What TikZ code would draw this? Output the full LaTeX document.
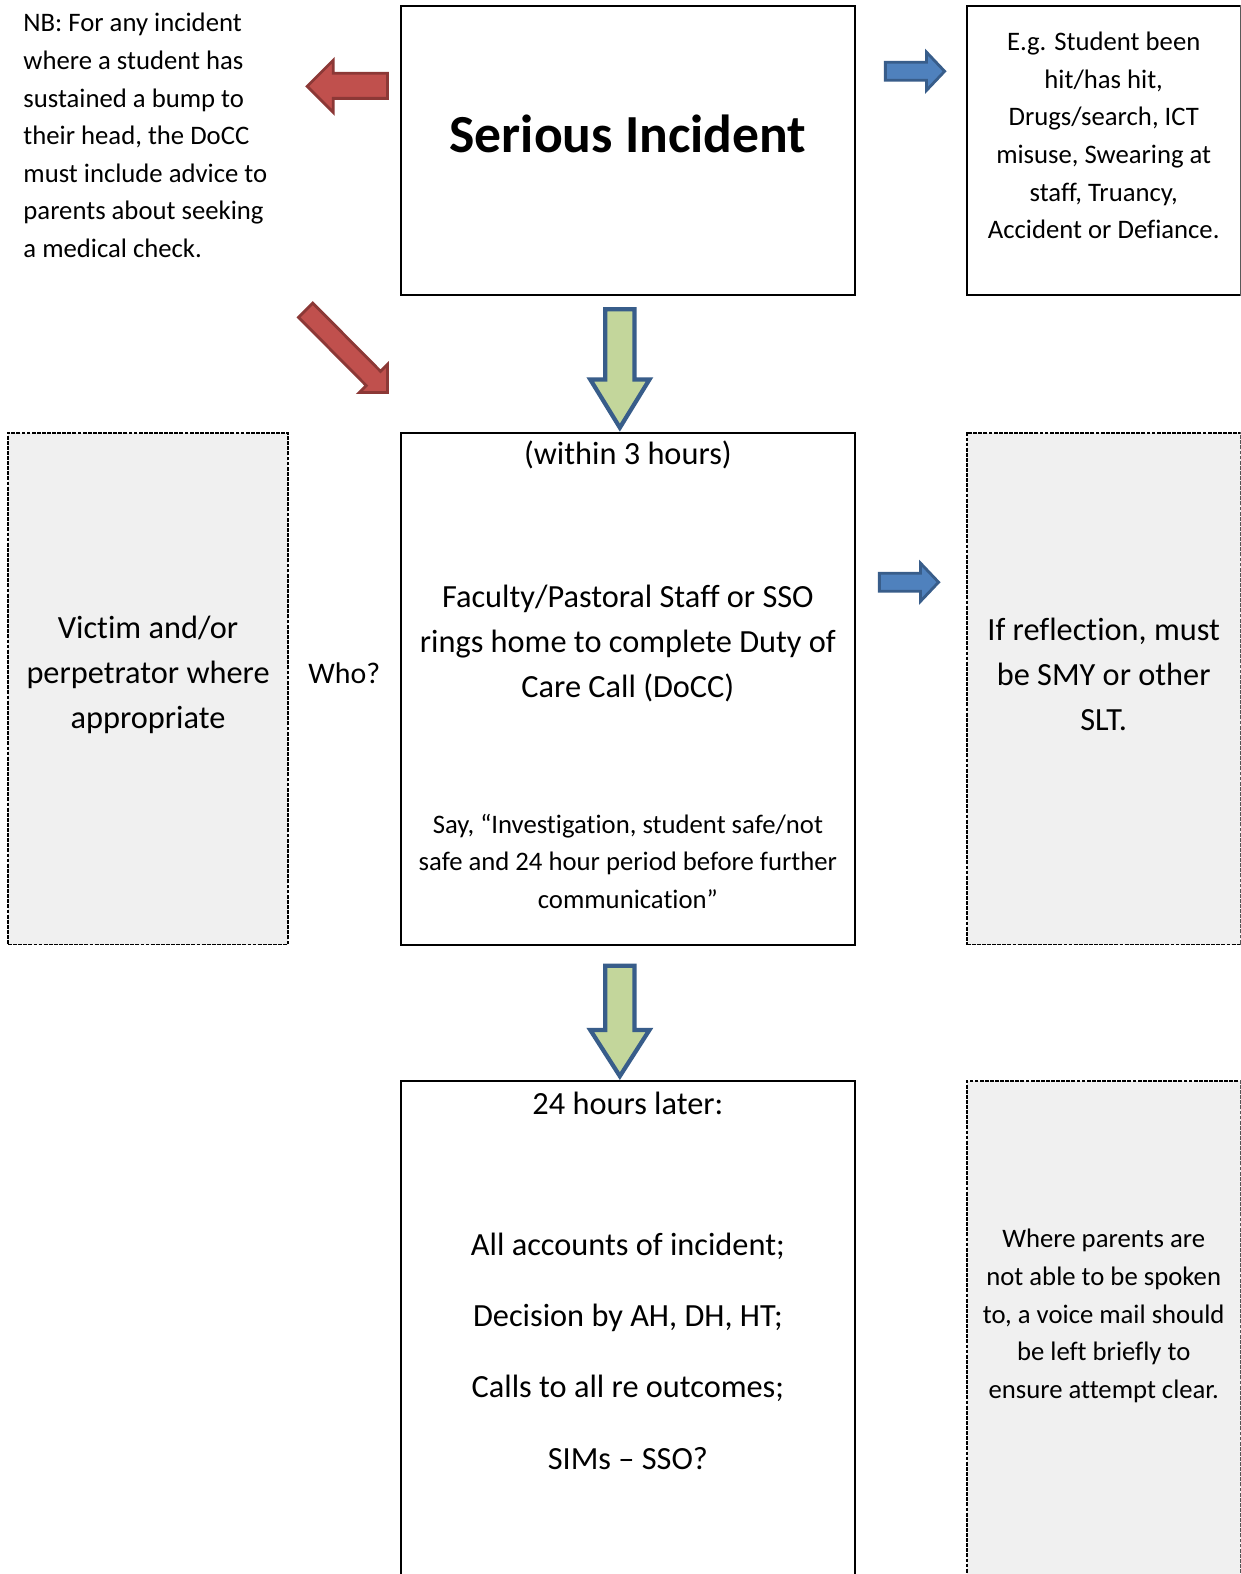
\documentclass[tikz,border=0pt]{standalone}
\usepackage{fontspec}
\setmainfont{Carlito}[Ligatures=NoCommon]
\usetikzlibrary{positioning}

\definecolor{redfill}{HTML}{C0504D}
\definecolor{redline}{HTML}{8C3836}
\definecolor{bluefill}{HTML}{4F81BD}
\definecolor{blueline}{HTML}{385D8A}
\definecolor{greenfill}{HTML}{C3D69B}
\definecolor{boxgrey}{HTML}{F0F0F0}

\begin{document}
\begin{tikzpicture}[x=0.02008cm, y=-0.02008cm,
  box/.style={draw, line width=1.1pt, inner sep=0pt},
  greybox/.style={draw, fill=boxgrey, line width=1pt, dash pattern=on 2.2pt off 0.7pt, inner sep=0pt},
  big/.style={font=\fontsize{18.4}{25.7}\selectfont, align=center, inner sep=0pt},
  small/.style={font=\fontsize{15.2}{21.4}\selectfont, align=center, inner sep=0pt},
  redarrow/.style={draw=redline, fill=redfill, line width=1.6pt, line join=miter},
  bluearrow/.style={draw=blueline, fill=bluefill, line width=1.6pt, line join=miter},
  greenarrow/.style={draw=blueline, fill=greenfill, line width=2.4pt, line join=miter}]
  \useasboundingbox (0,0) rectangle (1236,1568);
  \clip (0,0) rectangle (1236,1568);
  \fill[white] (0,0) rectangle (1236,1568);

  % boxes
  \node[box, minimum width=9.096cm, minimum height=5.783cm] (serious) at (625.5,150) {};
  \node[box, minimum width=5.482cm, minimum height=5.783cm] (examples) at (1099.5,150) {};
  \node[greybox, minimum width=5.602cm, minimum height=10.241cm] (victim) at (147.5,686) {};
  \node[box, minimum width=9.096cm, minimum height=10.241cm] (call) at (625.5,686) {};
  \node[greybox, minimum width=5.482cm, minimum height=10.241cm] (reflect) at (1099.5,686) {};
  \node[box, minimum width=9.096cm, minimum height=12.51cm] (later) at (625.5,1388.5) {};
  \node[greybox, minimum width=5.482cm, minimum height=12.51cm] (voicemail) at (1099.5,1388.5) {};

  % texts
  \node[font=\fontsize{30.5}{36}\selectfont\bfseries, inner sep=0pt] (title) at (625.5,133) {Serious Incident};
  \node[small, align=left, anchor=west] (nb) at (23,135)
    {NB: For any incident\\where a student has\\sustained a bump to\\their head, the DoCC\\must include advice to\\parents about seeking\\a medical check.};
  \node[small] (eg) at (1099.5,135)
    {E.g. Student been\\hit/has hit,\\Drugs/search, ICT\\misuse, Swearing at\\staff, Truancy,\\Accident or Defiance.};
  \node[big] (within) at (625.5,453) {(within 3 hours)};
  \node[big] (rings) at (625.5,641)
    {Faculty/Pastoral Staff or SSO\\rings home to complete Duty of\\Care Call (DoCC)};
  \node[small] (say) at (625.5,858)
    {Say, “Investigation, student safe/not\\safe and 24 hour period before further\\communication”};
  \node[big] (vtext) at (147.5,672) {Victim and/or\\perpetrator where\\appropriate};
  \node[font=\fontsize{17}{20}\selectfont, inner sep=0pt] (who) at (343,671) {Who?};
  \node[big] (rtext) at (1099.5,672) {If reflection, must\\be SMY or other\\SLT.};
  \node[big] (hours) at (625.5,1099) {24 hours later:};
  \node[font=\fontsize{18.4}{40.5}\selectfont, align=center, inner sep=0pt] (steps) at (625.5,1346)
    {All accounts of incident;\\Decision by AH, DH, HT;\\Calls to all re outcomes;\\SIMs – SSO?};
  \node[small] (vmtext) at (1099.5,1311)
    {Where parents are\\not able to be spoken\\to, a voice mail should\\be left briefly to\\ensure attempt clear.};

  % block arrows
  \draw[redarrow] (306,86) -- (332,60) -- (332,73) -- (386,73) -- (386,98) -- (332,98) -- (332,112) -- cycle;
  \draw[redarrow] (311.6,301.9) -- (379.1,369.9) -- (386,363) -- (386,391) -- (358,391)
    -- (364.9,384.1) -- (297.4,316.1) -- cycle;
  \draw[bluearrow] (882,62) -- (923,62) -- (923,52) -- (941,71) -- (923,90) -- (923,80) -- (882,80) -- cycle;
  \draw[bluearrow] (876,571) -- (917,571) -- (917,561) -- (935,580) -- (917,599) -- (917,589) -- (876,589) -- cycle;
  \draw[greenarrow] (603,308) -- (632,308) -- (632,378) -- (647,378) -- (617.5,426) -- (588,378) -- (603,378) -- cycle;
  \draw[greenarrow] (603,962) -- (632,962) -- (632,1026) -- (647,1026) -- (617.5,1072) -- (588,1026) -- (603,1026) -- cycle;
\end{tikzpicture}
\end{document}
